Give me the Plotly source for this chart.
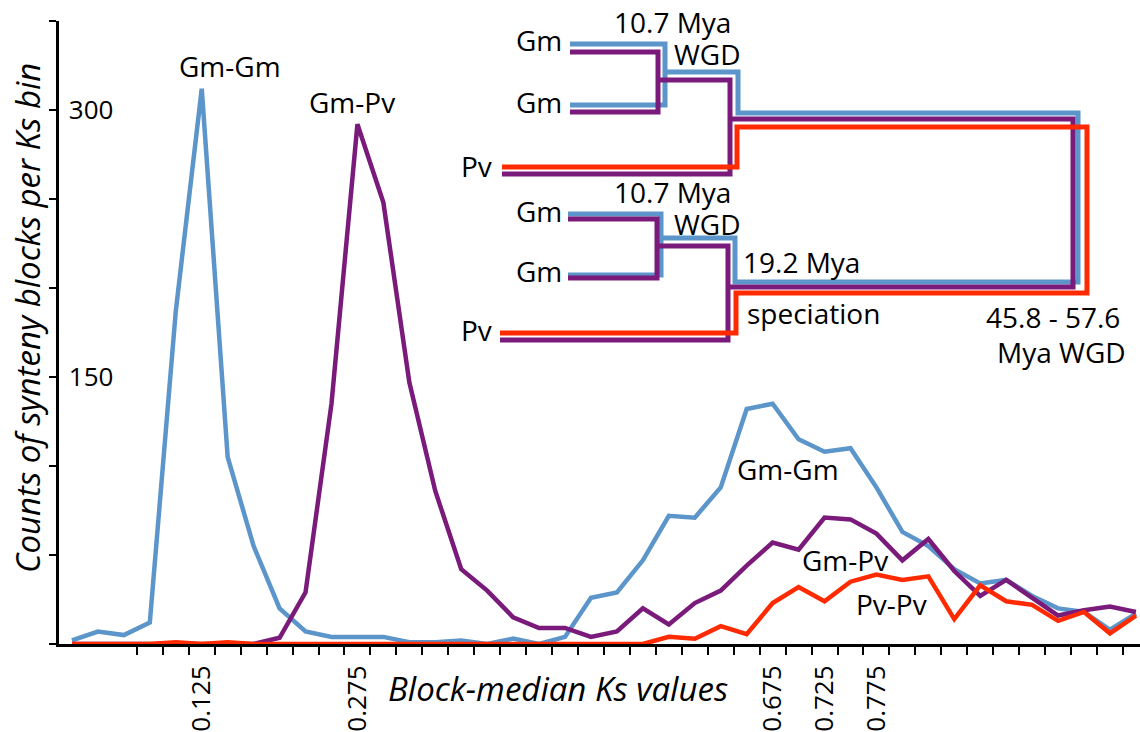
import plotly.graph_objects as go

# ---------------- data ----------------
ks_bins = [0.0, 0.025, 0.05, 0.075, 0.1, 0.125, 0.15, 0.175, 0.2, 0.225,
           0.25, 0.275, 0.3, 0.325, 0.35, 0.375, 0.4, 0.425, 0.45, 0.475,
           0.5, 0.525, 0.55, 0.575, 0.6, 0.625, 0.65, 0.675, 0.7, 0.725,
           0.75, 0.775, 0.8, 0.825, 0.85, 0.875, 0.9, 0.925, 0.95, 0.975,
           1.0, 1.025]

gm_gm = [2, 7, 5, 12, 187, 312, 105, 55, 20, 7,
         4, 4, 4, 1, 1, 2, 0, 3, 0, 4,
         26, 29, 47, 72, 71, 88, 132, 135, 115, 108,
         110, 88, 63, 55, 42, 34, 36, 27, 20, 18,
         8, 17]

gm_pv = [0, 0, 0, 0, 0, 0, 0, 0, 3.5, 29,
         135, 292, 248, 147, 86, 42, 30, 15, 9, 9,
         4, 7, 20, 11, 23, 30, 44, 57, 53, 71,
         70, 62, 47, 59, 41, 27, 36, 26, 16, 19,
         21, 18]

pv_pv = [0, 0, 0, 0, 1, 0, 1, 0, 0, 0,
         0, 0, 0, 0, 0, 0, 0, 0, 0, 0,
         0, 0, 0, 4, 3, 10, 5.5, 23, 32, 24,
         35, 39, 36, 38, 14, 33, 24, 22, 13, 18,
         6, 16]

x_tick_vals = [0.125, 0.275, 0.675, 0.725, 0.775]
x_tick_text = ["0.125", "0.275", "0.675", "0.725", "0.775"]
y_tick_vals = [0, 50, 100, 150, 200, 250, 300, 350]
y_tick_text = ["", "", "", "150", "", "", "300", ""]

series_names = ["Gm-Gm", "Gm-Pv", "Pv-Pv"]

# ---------------- styles ----------------
BLUE = "#5b95c9"
PURPLE = "#7a1a7a"
RED = "#ff2a00"
FONT = "Open Sans"
FS = 28

W, H = 1140, 732
L, R, T, B = 59, 1140, 21, 644


def px(x):
    return (x - L) / (R - L)


def py(y):
    return (B - y) / (B - T)


fig = go.Figure()
for name, vals, col in zip(series_names, [gm_gm, gm_pv, pv_pv], [BLUE, PURPLE, RED]):
    fig.add_trace(go.Scatter(x=ks_bins, y=vals, mode="lines", name=name,
                             line=dict(color=col, width=4.5),
                             showlegend=False))

step = 0.025
boundaries = [b - step / 2 for b in ks_bins] + [ks_bins[-1] + step / 2]

fig.update_layout(
    width=W, height=H,
    margin=dict(l=L, r=W - R, t=T, b=H - B, autoexpand=False),
    paper_bgcolor="white", plot_bgcolor="white",
    font=dict(family=FONT, size=FS, color="black"),
    xaxis=dict(range=[-step / 2, -step / 2 + step * (R - L) / 25.95],
               automargin=False,
               showline=True, linecolor="black", linewidth=3,
               showgrid=False, zeroline=False,
               tickmode="array", tickvals=x_tick_vals, ticktext=x_tick_text,
               ticks="outside", ticklen=8, tickcolor="rgba(0,0,0,0)",
               tickangle=-90, tickfont=dict(size=26, color="black", family=FONT),
               minor=dict(tickmode="array", tickvals=boundaries, ticks="outside",
                          ticklen=8, tickwidth=2, tickcolor="black", showgrid=False)),
    yaxis=dict(range=[0, 350],
               automargin=False,
               showline=True, linecolor="black", linewidth=3,
               showgrid=False, zeroline=False,
               tickmode="array", tickvals=y_tick_vals, ticktext=y_tick_text,
               ticks="outside", ticklen=7, tickwidth=2, tickcolor="black",
               ticklabelposition="inside", ticklabelstandoff=12,
               tickfont=dict(size=26, color="black", family=FONT)),
)

# ---------------- annotations ----------------
def text(s, x, y, xanchor="center", size=FS, italic=False, angle=0):
    fig.add_annotation(text=s, x=px(x), y=py(y), xref="paper", yref="paper",
                       xanchor=xanchor, yanchor="middle", showarrow=False,
                       textangle=angle,
                       font=dict(family=FONT, size=size, color="black",
                                 style="italic" if italic else "normal"))

text("Gm-Gm", 230, 66)
text("Gm-Pv", 352, 102)
text("Gm-Gm", 788, 469)
text("Gm-Pv", 845, 560)
text("Pv-Pv", 891, 604)

text("Gm", 564, 40, xanchor="right")
text("Gm", 564, 102, xanchor="right")
text("Pv", 494, 166, xanchor="right")
text("Gm", 564, 211, xanchor="right")
text("Gm", 564, 271, xanchor="right")
text("Pv", 494, 330, xanchor="right")
text("10.7 Mya", 672, 22)
text("WGD", 707, 54)
text("10.7 Mya", 672, 192)
text("WGD", 707, 224)
text("19.2 Mya", 741, 262, xanchor="left")
text("speciation", 745, 313, xanchor="left")
text("45.8 - 57.6", 1053, 317)
text("Mya WGD", 1061, 352)

text("Block-median Ks values", 558, 688, size=33, italic=True)
text("Counts of synteny blocks per Ks bin", 27, 318, size=33, italic=True, angle=-90)

# ---------------- tree diagram (decoration) ----------------
tree_paths = {
    BLUE: [
        [(570, 44), (665, 44), (665, 105), (570, 105)],
        [(665, 72), (738, 72), (738, 113), (1078, 113), (1078, 282), (735, 282), (735, 238), (661, 238)],
        [(568, 214), (661, 214), (661, 275), (568, 275)],
    ],
    PURPLE: [
        [(570, 52), (658, 52), (658, 112), (570, 112)],
        [(658, 80), (730, 80), (730, 174), (502, 174)],
        [(730, 119), (1073, 119), (1073, 287), (728, 287)],
        [(568, 219), (657, 219), (657, 278), (568, 278)],
        [(657, 246), (728, 246), (728, 340), (500, 340)],
    ],
    RED: [
        [(502, 167), (737, 167), (737, 127), (1087, 127), (1087, 293), (736, 293), (736, 333), (500, 333)],
    ],
}
for col, paths in tree_paths.items():
    for pts in paths:
        d = "M " + " L ".join(f"{px(x):.5f},{py(y):.5f}" for x, y in pts)
        fig.add_shape(type="path", path=d, xref="paper", yref="paper",
                      line=dict(color=col, width=5))

fig.write_html("out.html",
               config={"displayModeBar": False},
               post_script="document.body.style.margin='0';document.body.style.overflow='hidden';")
